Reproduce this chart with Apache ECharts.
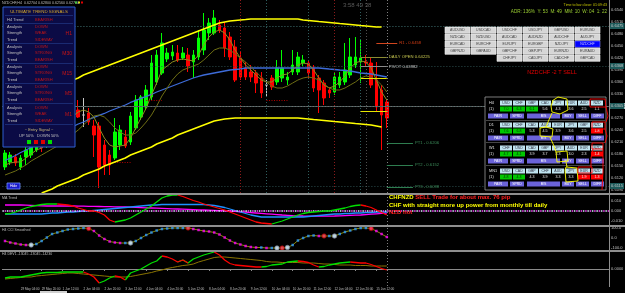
<!DOCTYPE html>
<html>
<head>
<meta charset="utf-8">
<title>NZDCHF H4</title>
<script src="https://cdn.jsdelivr.net/npm/echarts@6/dist/echarts.min.js"></script>
<style>
  html, body { margin: 0; padding: 0; background: #000; }
  #chart { width: 625px; height: 293px; }
</style>
</head>
<body>
<div id="chart"></div>
<script>
// H4 bars: [open, close, low, high]
const candles = [
  [0.61475, 0.61825, 0.61400, 0.61900], [0.61600, 0.61775, 0.61525, 0.61850],
  [0.61725, 0.61575, 0.61500, 0.61800], [0.61475, 0.61700, 0.61400, 0.61775],
  [0.61725, 0.61900, 0.61525, 0.62000], [0.61775, 0.61975, 0.61700, 0.62075],
  [0.61900, 0.62100, 0.61850, 0.62200], [0.62075, 0.61950, 0.61850, 0.62150],
  [0.62025, 0.62275, 0.61950, 0.62350], [0.62225, 0.62400, 0.62150, 0.62500],
  [0.62375, 0.62200, 0.62125, 0.62450], [0.62325, 0.62600, 0.62250, 0.62700],
  [0.62550, 0.62775, 0.62475, 0.62900], [0.62850, 0.62850, 0.62150, 0.63150],
  [0.62900, 0.62725, 0.62700, 0.63150], [0.62775, 0.62775, 0.62475, 0.63200],
  [0.62825, 0.62600, 0.62525, 0.62950], [0.62500, 0.62275, 0.61725, 0.62650],
  [0.62500, 0.61475, 0.60950, 0.62600], [0.62025, 0.61525, 0.61275, 0.62150],
  [0.61775, 0.61525, 0.61275, 0.61900], [0.61700, 0.62350, 0.61650, 0.62700],
  [0.62025, 0.62400, 0.61900, 0.62525], [0.62225, 0.62000, 0.61950, 0.62400],
  [0.62100, 0.62750, 0.62025, 0.62850], [0.62450, 0.63150, 0.62400, 0.63275],
  [0.62725, 0.63225, 0.62650, 0.63275], [0.62975, 0.63400, 0.62900, 0.63525],
  [0.63225, 0.64075, 0.63150, 0.64275], [0.63600, 0.64275, 0.63525, 0.64400],
  [0.63825, 0.64575, 0.63775, 0.64825], [0.64175, 0.64325, 0.64100, 0.64450],
  [0.64250, 0.64350, 0.64150, 0.64525], [0.64325, 0.64150, 0.64100, 0.64525],
  [0.64200, 0.64325, 0.64150, 0.64475], [0.64275, 0.64000, 0.63850, 0.64450],
  [0.64100, 0.64275, 0.63700, 0.64400], [0.64225, 0.64700, 0.64150, 0.64900],
  [0.64400, 0.64900, 0.64275, 0.65325], [0.64825, 0.65075, 0.64650, 0.65200],
  [0.64825, 0.65200, 0.64775, 0.65400], [0.65025, 0.64900, 0.64825, 0.65150],
  [0.64950, 0.64450, 0.64225, 0.65100], [0.64725, 0.64225, 0.64150, 0.64850],
  [0.64475, 0.63650, 0.63600, 0.64650], [0.64200, 0.63725, 0.63650, 0.64350],
  [0.63950, 0.63725, 0.63650, 0.64100], [0.63850, 0.63725, 0.63600, 0.64025],
  [0.63825, 0.63575, 0.63325, 0.63900], [0.63700, 0.63325, 0.63200, 0.63850],
  [0.63525, 0.63525, 0.63225, 0.63650], [0.63700, 0.63475, 0.63400, 0.63775],
  [0.63600, 0.63950, 0.63525, 0.64150], [0.63700, 0.63950, 0.63600, 0.64400],
  [0.63650, 0.63725, 0.63525, 0.63850], [0.63850, 0.64025, 0.63775, 0.64400],
  [0.63850, 0.64225, 0.63775, 0.64350], [0.64075, 0.64150, 0.64000, 0.64275],
  [0.64075, 0.63825, 0.63700, 0.64150], [0.63950, 0.63450, 0.63350, 0.64025],
  [0.63700, 0.63400, 0.62825, 0.63775], [0.63575, 0.63200, 0.63025, 0.63650],
  [0.63400, 0.63325, 0.63200, 0.63475], [0.63350, 0.63725, 0.63275, 0.63850],
  [0.63525, 0.63725, 0.63450, 0.63850], [0.63600, 0.63900, 0.63525, 0.64575],
  [0.63775, 0.64225, 0.63700, 0.64700], [0.64025, 0.64225, 0.63950, 0.64725],
  [0.64100, 0.64200, 0.63575, 0.64650], [0.64100, 0.64075, 0.64000, 0.64275],
  [0.64075, 0.63525, 0.63450, 0.64200], [0.63650, 0.62975, 0.62850, 0.64100],
  [0.63400, 0.62775, 0.61900, 0.63525], [0.63100, 0.62700, 0.62450, 0.63150]
];

// channel and moving averages on the price chart
const upperBand = [
  0.6300, 0.6305, 0.6310, 0.6315, 0.6320, 0.6325, 0.6330, 0.6335, 0.6340, 0.6345,
  0.6350, 0.6355, 0.6360, 0.6365, 0.6370, 0.63775, 0.63825, 0.63875, 0.63925, 0.63975,
  0.64025, 0.64075, 0.64125, 0.64175, 0.64225, 0.64275, 0.64325, 0.64375, 0.64425, 0.64475,
  0.64525, 0.64575, 0.64625, 0.64675, 0.64725, 0.64775, 0.64825, 0.64875, 0.64925, 0.64975,
  0.65025, 0.65075, 0.6510, 0.65125, 0.6514, 0.6515, 0.6516, 0.65175, 0.65175, 0.65175,
  0.65175, 0.65175, 0.65175, 0.65175, 0.65175, 0.65175, 0.65175, 0.6515, 0.6514, 0.65125,
  0.6511, 0.6510, 0.6509, 0.65075, 0.6506, 0.6505, 0.6504, 0.65025, 0.6501, 0.6500,
  0.6499, 0.64975, 0.64975
];
const lowerBand = [
  null, null, null, null, null, null, null,
  0.60825, 0.60875, 0.60925, 0.6100, 0.6105, 0.6110, 0.6115, 0.6120, 0.61275, 0.61325,
  0.61375, 0.61425, 0.6150, 0.6155, 0.6160, 0.6165, 0.6170, 0.61775, 0.61825, 0.61875,
  0.61925, 0.61975, 0.6205, 0.6210, 0.6215, 0.6220, 0.62275, 0.62325, 0.62375, 0.62425,
  0.62475, 0.62525, 0.62575, 0.62625, 0.6265, 0.62675, 0.6269,
  0.6270, 0.6270, 0.6270, 0.6270, 0.6270, 0.6270, 0.6270, 0.6270, 0.6270, 0.6270, 0.6270, 0.6270, 0.6270,
  0.6269, 0.62675, 0.6266, 0.6265, 0.6264, 0.62625, 0.6261, 0.6260, 0.6259, 0.62575,
  0.6256, 0.6255, 0.6254, 0.62525, 0.6250, 0.62475
];
const blueMA = [
  0.61638, 0.6170, 0.61763, 0.61838, 0.6190, 0.61963, 0.62025, 0.6210, 0.62163, 0.62225,
  0.62288, 0.62363, 0.62425, 0.62488, 0.6255, 0.6260, 0.62663, 0.62713, 0.62763, 0.62813,
  0.62875, 0.62925, 0.62975, 0.63025, 0.63088, 0.63138, 0.63188, 0.63238, 0.63288, 0.6335,
  0.6340, 0.6345, 0.6350, 0.6355, 0.6360, 0.6365, 0.6370, 0.63738, 0.63775, 0.6380,
  0.63825, 0.6385, 0.63875, 0.6390, 0.63913, 0.63925,
  0.6395, 0.6395, 0.6395, 0.6395, 0.6395, 0.6395, 0.6395, 0.6395, 0.6395, 0.6395,
  0.6395, 0.6395, 0.6395, 0.6395, 0.6395,
  0.63938, 0.63925, 0.63913, 0.6390, 0.63888, 0.63875, 0.6385, 0.63825, 0.63813, 0.6380,
  0.63775, 0.6375, 0.63725
];
const fastMA = [
  0.61525, 0.61575, 0.6160, 0.6160, 0.6170, 0.6180, 0.6190, 0.6195, 0.62075, 0.62225,
  0.62275, 0.6245, 0.62625, 0.6275, 0.6285, 0.6290, 0.6285, 0.62725, 0.6245, 0.6220,
  0.62025, 0.61975, 0.6200, 0.62025, 0.6220, 0.6245, 0.6270, 0.6295, 0.63275, 0.63575,
  0.6390, 0.6400, 0.6410, 0.6415, 0.64175, 0.6415, 0.64125, 0.64275, 0.64525, 0.64725,
  0.6485, 0.6490, 0.64825, 0.6465, 0.6440, 0.6420, 0.64025, 0.6390, 0.63775, 0.6365,
  0.6360, 0.6360, 0.6370, 0.63775, 0.6380, 0.6390, 0.64025, 0.64075, 0.6405, 0.6390,
  0.6370, 0.63525, 0.6345, 0.6350, 0.6360, 0.6375, 0.6395, 0.64075, 0.64125, 0.6410,
  0.6395, 0.6365, 0.6335, 0.6315
];
const slowMA = [
  0.61275, 0.61325, 0.61375, 0.6145, 0.61525, 0.61625, 0.6170, 0.61775, 0.6185, 0.61925,
  0.6200, 0.6210, 0.6220, 0.6230, 0.6240, 0.62525, 0.6265, 0.6275, 0.62775, 0.62725,
  0.6260, 0.6245, 0.6235, 0.62275, 0.62275, 0.62325, 0.6245, 0.6260, 0.62775, 0.6300,
  0.6325, 0.6345, 0.6365, 0.6380, 0.6390, 0.6395, 0.6400, 0.6405, 0.6415, 0.64275,
  0.6440, 0.6445, 0.6445, 0.6440, 0.6430, 0.6420, 0.6410, 0.63975, 0.6385, 0.63725,
  0.6360, 0.6350, 0.6345, 0.6345, 0.6350, 0.63575, 0.6365, 0.6370, 0.63725, 0.6370,
  0.6365, 0.6355, 0.6345, 0.6340, 0.6340, 0.6345, 0.63525, 0.6360, 0.6370, 0.6375,
  0.63725, 0.6365, 0.63525, 0.6335
];

// price levels
const bidLine = 0.6280, askLine = 0.6260;
const dottedLevels = [0.6540, 0.6475, 0.63675, 0.6305, 0.6115];
const pivotSegs = [
  { text: 'R1 - 0.6458', from: 71, to: 75, price: 0.64575, color: '#d2461e', textColor: '#d23c14' },
  { text: 'DAILY OPEN 0.64225', from: 68, to: 73, price: 0.64225, color: '#8c8c32', textColor: '#c8c850' },
  { text: 'PIVOT 0.63982', from: 68, to: 73, price: 0.63982, color: '#8a8a8a', textColor: '#c8c8c8' },
  { text: '', from: 68, to: 73, price: 0.6370, color: '#e6e600' },
  { text: '', from: 68, to: 73, price: 0.62875, color: '#e6e600' },
  { text: 'PT1 - 0.6206', from: 73, to: 78, price: 0.62075, color: '#2e7d4f', textColor: '#3c8c5a' },
  { text: 'PT2 - 0.6152', from: 73, to: 78, price: 0.61525, color: '#2e7d4f', textColor: '#3c8c5a' },
  { text: 'PT3 - 0.6098', from: 73, to: 78, price: 0.60975, color: '#2e7d4f', textColor: '#3c8c5a' }
];
const redDots = [[20, 24, 0.6160], [27, 30, 0.6315], [50, 54, 0.6315]];
const sessionBars = [[45, '#8b1a1a'], [50, '#2f5f5f'], [58, '#2f5f5f'], [63, '#8b1a1a'], [68, '#2f5f5f'], [69, '#505050'], [73, '#808080']];

// MA Trend sub window
const maTrend = [
  -0.003, -0.0025, -0.001, 0.001, 0.003, 0.0045, 0.0055, 0.0065, 0.007, 0.007,
  0.007, 0.0065, 0.006, 0.005, 0.003, 0.0015, 0, 0, -0.0015, -0.004,
  -0.009, -0.011, -0.010, -0.009, -0.007, -0.004, -0.001, 0.002, 0.005, 0.009,
  0.013, 0.015, 0.016, 0.016, 0.0145, 0.0125, 0.0105, 0.009, 0.007, 0.0055,
  0.004, 0.0025, 0.001, -0.001, -0.003, -0.005, -0.007, -0.009, -0.011, -0.012,
  -0.0125, -0.013, -0.0115, -0.010, -0.008, -0.006, -0.004, -0.0025, -0.0015, -0.001,
  -0.0005, 0, 0, 0.001, 0.002, 0.003, 0.0045, 0.0055, 0.006, 0.005,
  0.0035, 0.001, -0.0015, -0.004
];
const maSlow = [
  -0.003, -0.003, -0.003, -0.003, -0.003, -0.003, -0.003, -0.003, -0.0025, -0.002,
  -0.002, -0.0015, -0.001, -0.001, -0.0005, 0, 0, 0.0005, 0.001, 0.0015,
  0.002, 0.0025, 0.003, 0.0035, 0.004, 0.0045, 0.005, 0.0055, 0.006, 0.006,
  0.0065, 0.0065, 0.0065, 0.0065, 0.0065, 0.0065, 0.0065, 0.0065, 0.0065, 0.006,
  0.0055, 0.0045, 0.0035, 0.002, 0.0005, -0.001, -0.0025, -0.004, -0.005, -0.006,
  -0.006, -0.006, -0.006, -0.006, -0.006, -0.006, -0.006, -0.006, -0.0055, -0.005,
  -0.0045, -0.004, -0.0035, -0.003, -0.003, -0.0025, -0.0025, -0.002, -0.002, -0.0015,
  -0.0015, -0.001, -0.001, -0.001
];
const maSignal = [
  0.006, 0.006, 0.006, 0.006, 0.0058, 0.0056, 0.0054, 0.0052, 0.005, 0.005,
  0.005, 0.005, 0.005, 0.005, 0.0049, 0.0048, 0.0047, 0.0046, 0.0045, 0.0044,
  0.0043, 0.0042, 0.004, 0.004, 0.0038, 0.0036, 0.0034, 0.0032, 0.003, 0.0028,
  0.0026, 0.0024, 0.0022, 0.002, 0.0018, 0.0016, 0.0014, 0.0012, 0.001, 0.0008,
  0.0006, 0.0004, 0.0002, 0, -0.0004, -0.0008, -0.0012, -0.0016, -0.002, -0.0024,
  -0.0028, -0.0032, -0.0036, -0.004, -0.0043, -0.0046, -0.0048, -0.005, -0.0051, -0.0052,
  -0.0052, -0.0052, -0.0051, -0.005, -0.0048, -0.0046, -0.0044, -0.0042, -0.004, -0.0036,
  -0.0032, -0.0028, -0.0024, -0.002
];

// CCI smoothed sub window
const cci = [
  -30, -45, -55, -65, -70, -70, -60, -30, 5, 40,
  55, 70, 85, 90, 95, 100, 95, 70, 25, -10,
  -35, -45, -50, -50, -50, -30, 0, 30, 55, 75,
  90, 95, 100, 100, 100, 100, 90, 80, 70, 65,
  55, 35, 5, -25, -50, -65, -80, -90, -95, -95,
  -100, -100, -100, -100, -95, -70, -25, 0, 20, 25,
  20, 20, 20, 20, 40, 60, 75, 90, 100, 100,
  95, 70, 40, 10
];
const cciLowBars = [5, 24, 52, 54, 63];
const cciHighBars = [16, 35, 53, 61, 70];

// DEV sub window
const dev = [
  -0.009, -0.008, -0.008, -0.008, -0.007, -0.006, -0.005, -0.004, -0.0035, -0.0035,
  -0.0035, -0.003, -0.003, -0.003, -0.003, -0.003, -0.005, -0.008, -0.014, -0.012,
  -0.009, -0.007, -0.008, -0.011, -0.004, -0.002, 0, 0.003, 0.006, 0.008,
  0.013, 0.012, 0.010, 0.007, 0.009, 0.006, 0.010, 0.012, 0.014, 0.0155,
  0.017, 0.014, 0.009, 0.0055, 0.004, 0.0035, 0.003, 0.0025, 0.002, 0.002,
  0.0025, 0.004, 0.0045, 0.005, 0.007, 0.0075, 0.008, 0.0075, 0.0065, 0.004,
  0.002, 0.0025, 0.004, 0.005, 0.006, 0.0065, 0.007, 0.0065, 0.006, 0.006,
  0.0045, 0.0025, 0.0005, -0.001
];
const devSignal = [
  -0.010, -0.0095, -0.009, -0.0085, -0.008, -0.008, -0.007, -0.0065, -0.006, -0.0055,
  -0.005, -0.0045, -0.004, -0.004, -0.0045, -0.005, -0.0055, -0.006, -0.0065, -0.007,
  -0.0075, -0.008, -0.008, -0.008, -0.0075, -0.0065, -0.0055, -0.0045, -0.0035, -0.002,
  -0.001, 0.0005, 0.0015, 0.0025, 0.0035, 0.004, 0.005, 0.007, 0.0085, 0.010,
  0.0115, 0.012, 0.012, 0.0115, 0.011, 0.0105, 0.010, 0.0095, 0.009, 0.0085,
  0.0075, 0.007, 0.007, 0.0065, 0.0065, 0.0065, 0.0065, 0.006, 0.006, 0.006,
  0.0055, 0.005, 0.005, 0.0045, 0.004, 0.004, 0.004, 0.0035, 0.0035, 0.0035,
  0.003, 0.003, 0.003, 0.003
];

// time axis
const labelBars = [0, 3, 7, 11, 15, 19, 23, 27, 31, 35, 39, 43, 47, 51, 55, 59, 63, 67, 71];
const timeLabels = ['28 May 2015', '29 May 04:00', '29 May 20:00', '1 Jun 12:00', '2 Jun 04:00',
  '2 Jun 20:00', '3 Jun 12:00', '4 Jun 04:00', '4 Jun 20:00', '5 Jun 12:00', '8 Jun 04:00',
  '8 Jun 20:00', '9 Jun 12:00', '10 Jun 04:00', '10 Jun 20:00', '11 Jun 12:00', '12 Jun 04:00',
  '12 Jun 20:00', '15 Jun 12:00'];

// panels
const trendTitle = 'ULTIMATE TREND SIGNALS';
const trendRows = [
  ['H1', 'DOWN', 'WEAK', 'SIDEWAY'],
  ['M30', 'DOWN', 'STRONG', 'BEARISH'],
  ['M15', 'DOWN', 'STRONG', 'BEARISH'],
  ['M5', 'DOWN', 'STRONG', 'BEARISH'],
  ['M1', 'DOWN', 'WEAK', 'SIDEWAY']
];
const pairs = [
  ['AUDUSD', 'USDCAD', 'USDCHF', 'USDJPY', 'GBPUSD', 'EURUSD'],
  ['NZDCAD', 'NZDUSD', 'AUDCAD', 'AUDNZD', 'AUDCHF', 'AUDJPY'],
  ['EURCAD', 'EURCHF', 'EURJPY', 'EURGBP', 'NZDJPY', 'NZDCHF'],
  ['GBPNZD', 'GBPAUD', 'GBPCHF', 'GBPJPY', 'EURNZD', 'EURAUD'],
  ['', '', 'CHFJPY', 'CADJPY', 'CADCHF', 'GBPCAD']
];
const strengthTF = ['H4', 'D1', 'W1', 'MN1'];
const strengthCcy = [
  ['USD', 'CHF', 'GBP', 'CAD', 'JPY', 'EUR', 'AUD', 'NZD'],
  ['USD', 'CHF', 'CAD', 'AUD', 'EUR', 'JPY', 'GBP', 'NZD'],
  ['CHF', 'USD', 'CAD', 'GBP', 'JPY', 'AUD', 'EUR', 'NZD'],
  ['USD', 'CAD', 'GBP', 'CHF', 'AUD', 'JPY', 'EUR', 'NZD']
];
const strengthVal = [
  [7.0, 6.3, 6.1, 5.6, 4.3, 3.6, 2.5, 1.1],
  [7.6, 6.8, 5.3, 4.5, 3.9, 3.6, 2.5, 1.8],
  [4.7, 4.1, 3.9, 3.7, 3.3, 3.0, 2.3, 1.4],
  [4.8, 4.3, 4.3, 3.9, 3.3, 3.3, 1.9, 1.3]
];
const strengthFlag = [
  ['g', 'g', 'g', '', '', '', '', ''],
  ['g', 'g', '', '', '', '', '', 'r'],
  ['g', 'g', '', '', '', '', '', 'r'],
  ['g', 'g', '', '', '', '', 'r', 'r']
];

const cats = Array.from({ length: 116 }, (_, i) => String(i));
const FONT = '"Liberation Sans", Arial, sans-serif';

// split a line into rising / falling pieces
function splitTrend(arr) {
  const up = arr.map(() => null), dn = arr.map(() => null);
  let rising = true;
  for (let i = 1; i < arr.length; i++) {
    if (arr[i] > arr[i - 1]) rising = true;
    else if (arr[i] < arr[i - 1]) rising = false;
    const t = rising ? up : dn;
    t[i - 1] = arr[i - 1];
    t[i] = arr[i];
  }
  return [up, dn];
}
const [maUp, maDn] = splitTrend(maTrend);
const [devUp, devDn] = splitTrend(dev);
const cciUp = [], cciDn = [];
cci.forEach((v, i) => {
  const rising = i === 0 ? cci[1] >= v : v >= cci[i - 1];
  (rising ? cciUp : cciDn).push([i, v]);
});

const candleData = candles.map(c => c[0] === c[1]
  ? { value: c, itemStyle: { color: '#c8c8c8', borderColor: '#c8c8c8' } }
  : c);

// mark lines on the price chart
const priceMarks = [];
priceMarks.push({ yAxis: bidLine, lineStyle: { color: '#8b0000', type: 'solid', width: 1 },
  label: { show: true, position: 'end', formatter: bidLine.toFixed(5), backgroundColor: '#d00000', color: '#fff', fontSize: 4, padding: [1, 1], distance: 1 } });
priceMarks.push({ yAxis: askLine, lineStyle: { color: '#6e6e6e', type: 'solid', width: 1 },
  label: { show: true, position: 'end', formatter: askLine.toFixed(5), backgroundColor: '#e8e8e8', color: '#000', fontSize: 4, padding: [1, 1], distance: 1 } });
dottedLevels.forEach(p => priceMarks.push({ yAxis: p, lineStyle: { color: '#2c4e4e', type: [1, 2], width: 1 },
  label: { show: true, position: 'end', formatter: p.toFixed(4), backgroundColor: '#1d5a5a', color: '#c8c8c8', fontSize: 4, padding: [1, 1], distance: 1 } }));
sessionBars.forEach(([i, c]) => priceMarks.push({ xAxis: cats[i], lineStyle: { color: c, type: [1, 2], width: 1 } }));
pivotSegs.forEach(s => priceMarks.push([
  { coord: [cats[s.from], s.price], lineStyle: { color: s.color, type: 'solid', width: 1 },
    label: { show: !!s.text, position: 'end', formatter: s.text, color: s.textColor, fontSize: 4.2, distance: 2 } },
  { coord: [cats[s.to], s.price] }
]));
redDots.forEach(([a, b, p]) => priceMarks.push([
  { coord: [cats[a], p], lineStyle: { color: '#b00000', type: [1, 1.5], width: 1 } },
  { coord: [cats[b], p] }
]));

function xAx(grid, withLabels) {
  const show = (i) => labelBars.indexOf(i) >= 0;
  return {
    type: 'category', gridIndex: grid, data: cats, boundaryGap: true,
    axisLine: { show: withLabels, lineStyle: { color: '#8a8a8a' } },
    axisTick: withLabels ? { show: true, length: 2, interval: show, alignWithLabel: true, lineStyle: { color: '#8a8a8a' } } : { show: false },
    axisLabel: withLabels ? {
      show: true, interval: show, color: '#c0c0c0', fontSize: 3.1, align: 'left', margin: 1.5,
      formatter: (v) => timeLabels[labelBars.indexOf(Number(v))]
    } : { show: false },
    splitLine: { show: false }
  };
}
function yAx(grid, min, max, split, digits) {
  return {
    type: 'value', gridIndex: grid, position: 'right', min: min, max: max, splitNumber: split,
    axisLine: { show: false }, axisTick: { show: false }, splitLine: { show: false },
    axisLabel: { color: '#c0c0c0', fontSize: 4, margin: 2, showMinLabel: false, showMaxLabel: false,
      formatter: (v) => v.toFixed(digits) }
  };
}
function line(name, data, color, width, x, y, z) {
  return { name: name, type: 'line', xAxisIndex: x, yAxisIndex: y, data: data, showSymbol: false,
    lineStyle: { color: color, width: width }, itemStyle: { color: color }, z: z || 4, silent: true };
}

// ---------- overlay graphics ----------
const g = [];
function rect(x, y, w, h, fill, stroke, lw) {
  g.push({ type: 'rect', z: 100, shape: { x: x, y: y, width: w, height: h },
    style: { fill: fill || 'none', stroke: stroke || null, lineWidth: lw || 0.8 } });
}
function text(x, y, s, color, size, align, bold) {
  g.push({ type: 'text', z: 101, x: x, y: y,
    style: { text: s, fill: color, font: (bold ? 'bold ' : '') + size + 'px ' + FONT,
      textAlign: align || 'left', textVerticalAlign: 'middle', align: align || 'left', verticalAlign: 'middle' } });
}
function poly(points, color, w) {
  g.push({ type: 'polyline', z: 102, shape: { points: points }, style: { stroke: color, lineWidth: w || 1, fill: 'none' } });
}
const measure = document.createElement('canvas').getContext('2d');
function textWidth(s, size, bold) {
  measure.font = (bold ? 'bold ' : '') + size + 'px ' + FONT;
  return measure.measureText(s).width;
}

// window separators
rect(0, 193, 625, 2, '#8e8e8e');
rect(0, 225, 625, 2, '#8e8e8e');
rect(0, 250, 625, 2, '#8e8e8e');
rect(609, 0, 1, 287, '#8e8e8e');
rect(40, 291, 27, 2, '#d0d0d0');

// header line
text(2, 2.5, 'NZDCHF,H4  0.62704 0.62800 0.62560 0.62700', '#bdbdbd', 3.6);
rect(75, 1.5, 2, 2, '#00d000'); rect(78, 1.5, 2, 2, '#e0e000'); rect(81, 1.5, 2, 2, '#e00000');
text(343, 5, '3:58 49 38', '#5a5a5a', 6);
text(607, 5, 'Time to bar close: 01:09:43', '#c8c800', 3.6, 'right');
text(607, 11.5, 'ADR: 136%  Y: 53  M: 49  MM: 10  W: 04  1: 22', '#9acd32', 4.6, 'right');

// trend signal panel
rect(3, 7, 72, 140, '#0b0b45', '#2f5fd0', 1);
text(39, 12, trendTitle, '#d4a82a', 4.4, 'center');
rect(5, 15.5, 68, 0.6, '#2a4aa0');
text(7, 20, 'H4 Trend', '#c0c0c0', 4);
text(35, 20, 'BEARISH', '#c81414', 4);
rect(5, 23.5, 68, 0.6, '#2a4aa0');
const blockTop = [27, 47, 67, 87, 108];
trendRows.forEach((r, k) => {
  const y0 = blockTop[k];
  ['Analysis', 'Strength', 'Trend'].forEach((lab, j) => {
    text(7, y0 + j * 6.3, lab, '#c0c0c0', 4);
    text(35, y0 + j * 6.3, r[j + 1], '#c81414', 4);
  });
  text(72, y0 + 6.3, r[0], '#c81414', 5, 'right');
  rect(5, y0 + 16.5, 68, 0.6, '#2a4aa0');
});
text(39, 130, '~ Entry Signal ~', '#c8b878', 4, 'center');
text(39, 136, 'UP 50%   DOWN 50%', '#c0c0c0', 4, 'center');
rect(27, 140, 4, 4, '#00e000'); rect(34, 140, 4, 4, '#e00000');
rect(41, 140, 4, 4, '#e00000'); rect(48, 140, 4, 4, '#00e000');
rect(7, 183, 13, 6, '#1a1acc', '#7090ff');
text(13.5, 186, 'Hide', '#ffffff', 3.5, 'center');

// symbol buttons
pairs.forEach((row, r) => row.forEach((p, c) => {
  if (!p) return;
  const x = 445 + c * 26, y = 27 + r * 7;
  const hi = p === 'NZDCHF';
  rect(x, y, 25, 6.3, hi ? '#0000ff' : '#d6d6d6', hi ? '#8080ff' : '#f4f4f4', 0.6);
  text(x + 12.5, y + 3.3, p, hi ? '#c8c8ff' : '#404040', 3.5, 'center');
}));
text(552, 72, 'NZDCHF -2 T SELL', '#e00000', 5.6, 'center');

// currency strength panel
rect(485, 97, 121, 93, '#000000', '#9a9a9a', 0.8);
const blockY = [99, 121, 144, 167];
strengthTF.forEach((tf, b) => {
  const yb = blockY[b];
  text(489, yb + 4, tf, '#e0e0e0', 3.8);
  text(489, yb + 10, '(1)', '#e0e0e0', 3.8);
  strengthCcy[b].forEach((c, j) => {
    const x = 500 + j * 13;
    rect(x, yb + 1.5, 12, 5, '#bfe3ef');
    text(x + 6, yb + 4, c, '#303040', 3.5, 'center');
    const f = strengthFlag[b][j];
    if (f) rect(x, yb + 7.5, 12, 5, f === 'g' ? '#00c800' : '#ff0000');
    text(x + 6, yb + 10, strengthVal[b][j].toFixed(1), f === 'g' ? '#003000' : '#e8e8e8', 3.6, 'center');
  });
  [['PAIR', 488, 20], ['SPRD', 510, 14], ['B/S', 527, 33], ['BUY', 562, 12], ['SELL', 576, 13], ['DIFF', 591, 13]]
    .forEach(([t, x, w]) => {
      rect(x, yb + 14.5, w, 5, '#6b63d9');
      text(x + w / 2, yb + 17, t, '#ffffff', 3.5, 'center');
    });
  if (b < 3) rect(486, yb + 21.5, 119, 0.6, '#8a8a8a');
});

// hand drawn marks
poly([[552, 101], [558, 97], [567, 99], [568, 110], [560, 114], [552, 112], [551, 106], [553, 101]], '#ffff00', 0.9);
poly([[552, 113], [548, 122], [546, 127]], '#ffff00', 0.9);
poly([[546, 127], [540, 128], [540, 136], [552, 137], [553, 129], [546, 127]], '#ffff00', 0.9);
poly([[550, 137], [554, 146], [556, 152]], '#ffff00', 0.9);
poly([[556, 152], [567, 151], [568, 161], [557, 162], [556, 152]], '#ffff00', 0.9);
poly([[566, 162], [567, 167]], '#ffff00', 0.9);
poly([[566, 167], [577, 168], [578, 181], [566, 182], [565, 170], [566, 167]], '#ffff00', 0.9);
poly([[590, 99], [605, 99], [606, 107], [590, 107], [590, 99]], '#ff0000', 0.9);
poly([[606, 107], [608, 116], [606, 122]], '#ff0000', 0.9);
poly([[592, 122], [605, 122], [605, 129], [592, 129], [592, 122]], '#ff0000', 0.9);
poly([[605, 129], [607, 136], [605, 143]], '#ff0000', 0.9);
poly([[592, 143], [603, 143], [603, 149], [592, 149], [592, 143]], '#ff0000', 0.9);
poly([[593, 149], [591, 158], [591, 167]], '#ff0000', 0.9);
poly([[578, 167], [592, 167], [592, 173], [578, 173], [578, 167]], '#ff0000', 0.9);
poly([[603, 149], [603, 172], [602, 190]], '#ff0000', 0.9);

// comment text
const w1 = textWidth('CHFNZD ', 6, true);
text(389, 197.5, 'CHFNZD', '#ffff00', 6, 'left', true);
text(389 + w1, 197.5, 'SELL Trade for about max. 76 pip', '#ff2020', 6, 'left', true);
text(389, 205, 'CHF with straight more up power from monthly till daily', '#ffff00', 6, 'left', true);
text(389, 212.5, 'NZD not', '#ff2020', 6, 'left', true);

// sub window titles
text(2, 198.5, 'MA Trend', '#bdbdbd', 3.5);
text(2, 230, 'H4 CCI Smoothed', '#bdbdbd', 3.5);
text(2, 254.5, 'H4 DEV1 -13045 -13045 -14230', '#bdbdbd', 3.5);

const vSep = { symbol: ['none', 'none'], silent: true, animation: false, label: { show: false },
  lineStyle: { color: '#808080', type: [1, 2], width: 1 }, data: [{ xAxis: cats[73] }] };

const option = {
  backgroundColor: '#000000',
  animation: false,
  textStyle: { fontFamily: FONT },
  grid: [
    { left: 2.4, right: 15.9, top: 0, height: 193, outerBoundsMode: 'none' },
    { left: 2.4, right: 15.9, top: 195, height: 30, outerBoundsMode: 'none' },
    { left: 2.4, right: 15.9, top: 227, height: 23, outerBoundsMode: 'none' },
    { left: 2.4, right: 15.9, top: 252, height: 34, outerBoundsMode: 'none' }
  ],
  xAxis: [xAx(0, false), xAx(1, false), xAx(2, false), xAx(3, true)],
  yAxis: [
    yAx(0, 0.60825, 0.6565, 16, 4),
    yAx(1, -0.014, 0.016, 3, 3),
    yAx(2, -120, 110, 2, 1),
    yAx(3, -0.017, 0.017, 2, 4)
  ],
  series: [
    {
      name: 'NZDCHF', type: 'candlestick', xAxisIndex: 0, yAxisIndex: 0, data: candleData,
      barWidth: 3, z: 3, silent: true,
      itemStyle: { color: '#00ff00', color0: '#ff0000', borderColor: '#00ff00', borderColor0: '#ff0000', borderWidth: 1 },
      markLine: { symbol: ['none', 'none'], silent: true, animation: false, label: { show: false }, data: priceMarks }
    },
    line('Upper', upperBand, '#ffff00', 1.5, 0, 0, 5),
    line('Lower', lowerBand, '#ffff00', 1.5, 0, 0, 5),
    line('MA slow', blueMA, '#3d6bd8', 1.3, 0, 0, 4),
    line('MA fast', fastMA, '#8c8c1e', 1, 0, 0, 4),
    line('MA mid', slowMA, '#6e6e14', 1, 0, 0, 4),

    Object.assign(line('Signal', maSignal, '#ff00ff', 1.3, 1, 1), { markLine: Object.assign({}, vSep, {
      data: [{ xAxis: cats[73] },
        { yAxis: 0, lineStyle: { color: '#d8ecff', type: [1.5, 3], width: 1.6 } },
        { yAxis: 0, lineStyle: { color: '#ff40ff', type: [1.5, 3], dashOffset: 2.25, width: 1.6 } }]
    }) }),
    line('Slow', maSlow, '#1e90ff', 1.3, 1, 1),
    line('Trend up', maUp, '#00e000', 1.3, 1, 1, 5),
    line('Trend down', maDn, '#ff0000', 1.3, 1, 1, 5),

    Object.assign(line('CCI', cci, '#8b8b00', 1, 2, 2), { markLine: vSep }),
    { type: 'scatter', xAxisIndex: 2, yAxisIndex: 2, data: cciUp, symbol: 'rect', symbolSize: 2.5, itemStyle: { color: '#2f9bff' }, z: 5, silent: true },
    { type: 'scatter', xAxisIndex: 2, yAxisIndex: 2, data: cciDn, symbol: 'rect', symbolSize: 2.5, itemStyle: { color: '#ff00ff' }, z: 5, silent: true },
    { type: 'scatter', xAxisIndex: 2, yAxisIndex: 2, data: cciLowBars.map(i => [i, cci[i]]), symbol: 'circle', symbolSize: 4.5,
      itemStyle: { color: '#dce8f0', borderColor: '#8090a0', borderWidth: 0.8 }, z: 6, silent: true },
    { type: 'scatter', xAxisIndex: 2, yAxisIndex: 2, data: cciHighBars.map(i => [i, cci[i]]), symbol: 'circle', symbolSize: 4.5,
      itemStyle: { color: '#ff3c3c', borderColor: '#a00000', borderWidth: 0.8 }, z: 6, silent: true },

    Object.assign(line('DEV signal', devSignal, '#8b7500', 1, 3, 3), { markLine: vSep }),
    line('DEV up', devUp, '#00e000', 1.3, 3, 3, 5),
    line('DEV down', devDn, '#ff0000', 1.3, 3, 3, 5)
  ],
  graphic: { elements: g }
};

const chart = echarts.init(document.getElementById('chart'), null, { renderer: 'canvas' });
chart.setOption(option);
</script>
</body>
</html>
